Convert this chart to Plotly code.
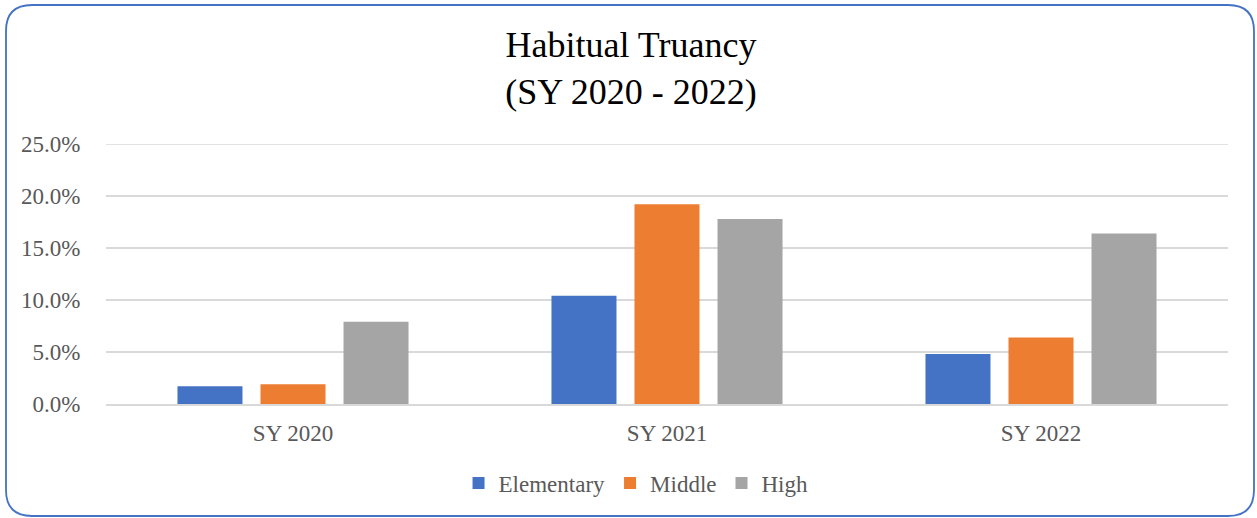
import plotly.graph_objects as go

categories = ["SY 2020", "SY 2021", "SY 2022"]
elementary = [0.017, 0.104, 0.048]
middle = [0.019, 0.192, 0.064]
high = [0.079, 0.178, 0.164]
series_names = ["Elementary", "Middle", "High"]
colors = ["#4472C4", "#ED7D31", "#A5A5A5"]
tick_vals = [0, 0.05, 0.10, 0.15, 0.20, 0.25]
tick_text = ["0.0%", "5.0%", "10.0%", "15.0%", "20.0%", "25.0%"]

W, H = 1257, 518
L, R, T, B = 106, 29, 144, 114
pw, ph = W - L - R, H - T - B
SERIF = "Liberation Serif, Times New Roman, serif"

fig = go.Figure()
for name, vals, col in zip(series_names, [elementary, middle, high], colors):
    fig.add_trace(go.Bar(x=categories, y=vals, name=name, marker=dict(color=col, line=dict(width=0))))

def px(x):
    return (x - L) / pw

def py(y):
    return (H - B - y) / ph

# rounded border
x0, x1, y0, y1, r = 6, 1254, 5, 516, 26
pts = [
    ("M", [(x0 + r, y0)]),
    ("L", [(x1 - r, y0)]),
    ("Q", [(x1, y0), (x1, y0 + r)]),
    ("L", [(x1, y1 - r)]),
    ("Q", [(x1, y1), (x1 - r, y1)]),
    ("L", [(x0 + r, y1)]),
    ("Q", [(x0, y1), (x0, y1 - r)]),
    ("L", [(x0, y0 + r)]),
    ("Q", [(x0, y0), (x0 + r, y0)]),
]
path = ""
for cmd, ps in pts:
    path += cmd + " " + " ".join(f"{px(a):.5f},{py(b):.5f}" for a, b in ps) + " "
path += "Z"

fig.add_shape(type="path", path=path, xref="paper", yref="paper",
              line=dict(color="#4472C4", width=1.8), fillcolor="rgba(0,0,0,0)", layer="above")
# top gridline (plotly omits the gridline at the range edge)
fig.add_shape(type="line", xref="paper", yref="y", x0=0, x1=1, y0=tick_vals[-1], y1=tick_vals[-1],
              line=dict(color="#D9D9D9", width=1.5), layer="below")

fig.update_layout(
    width=W, height=H,
    margin=dict(l=L, r=R, t=T, b=B),
    paper_bgcolor="white", plot_bgcolor="white",
    font=dict(family=SERIF, color="#595959", size=23),
    title=dict(text="Habitual Truancy<br>(SY 2020 - 2022)", x=0.502, xref="container", xanchor="center",
               y=1 - 57 / H, yref="container", yanchor="top",
               font=dict(size=36, color="#000000", family=SERIF)),
    barmode="group", bargap=0.334, bargroupgap=0.217,
    showlegend=True,
    legend=dict(orientation="h", x=0.506, xref="container", xanchor="center", y=1 - 483 / H, yref="container",
                yanchor="middle", font=dict(size=23, color="#595959", family=SERIF), itemwidth=30,
                tracegroupgap=0),
    xaxis=dict(showgrid=False, showline=True, linecolor="#D9D9D9", linewidth=1.5,
               ticks="outside", ticklen=8, tickcolor="rgba(0,0,0,0)", tickfont=dict(size=23, family=SERIF)),
    yaxis=dict(range=[0, 0.25], tickvals=tick_vals, ticktext=tick_text, showgrid=True, gridcolor="#D9D9D9",
               gridwidth=1.5, zeroline=False, showline=False,
               ticks="outside", ticklen=20, tickcolor="rgba(0,0,0,0)", tickfont=dict(size=23, family=SERIF)),
)

fig.write_html("out.html", config={"displayModeBar": False},
               post_script="document.body.style.margin='0';")
